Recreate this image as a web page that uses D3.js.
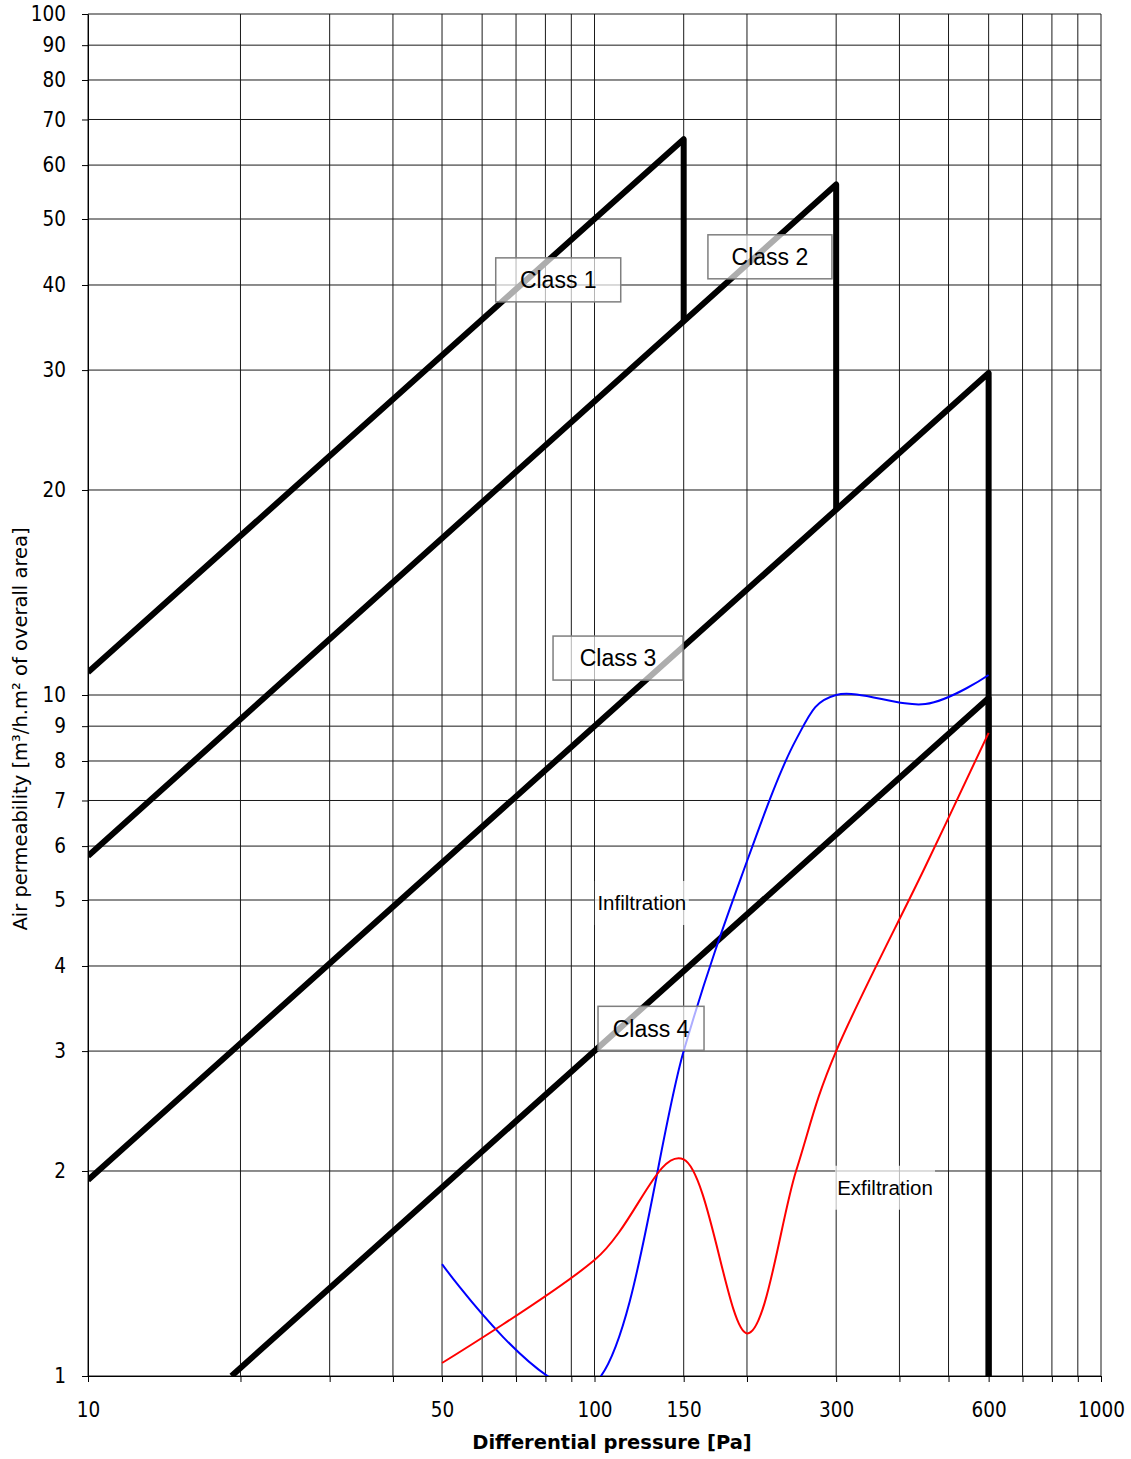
<!DOCTYPE html>
<html>
<head>
<meta charset="utf-8">
<script src="https://cdn.jsdelivr.net/npm/d3@7"></script>
<style>
  body { margin: 0; background: #fff; }
  svg { display: block; }
  .tick text { font-family: "DejaVu Sans Condensed", "DejaVu Sans", sans-serif; font-stretch: condensed; }
</style>
</head>
<body>
<div id="chart"></div>
<script>
// air permeability classes (EN 12207 style) + measured curves
const xGrid = [10, 20, 30, 40, 50, 60, 70, 80, 90, 100, 150, 200, 300, 400, 500, 600, 700, 800, 900, 1000];
const xLabels = [10, 50, 100, 150, 300, 600, 1000];
const yGrid = [1, 2, 3, 4, 5, 6, 7, 8, 9, 10, 20, 30, 40, 50, 60, 70, 80, 90, 100];

// class limit lines [pressure, permeability]
const class1 = [[10, 10.8], [150, 65.5], [150, 35.4]];
const class2 = [[10, 5.8], [300, 56.2], [300, 18.7]];
const class3 = [[10, 1.94], [600, 29.7], [600, 1]];
const class4 = [[19.2, 1], [600, 9.9], [600, 1]];
const classNames = ["Class 1", "Class 2", "Class 3", "Class 4"];

// measured curves
const pressure = [50, 100, 150, 200, 250, 300, 450, 600];
const infiltration = [1.46, 0.975, 3.0, 5.7, 8.6, 10.0, 9.7, 10.7];
const exfiltration = [1.045, 1.48, 2.08, 1.155, 2.0, 3.0, 5.6, 8.8];

// where the labels sit (data coords)
const classLabelP = [84.8, 222, 111.3, 129.3];
const classLabelQ = [40.7, 44.0, 11.33, 3.24];
const classBoxW = [125, 124, 130, 106];

const width = 1131, height = 1459;
const x = d3.scaleLog().domain([10, 1000]).range([88, 1101]);
const y = d3.scaleLog().domain([1, 100]).range([1376, 14]);

const svg = d3.select("#chart").append("svg")
  .attr("width", width)
  .attr("height", height);

svg.append("defs").append("clipPath").attr("id", "plot")
  .append("rect")
  .attr("x", x(10)).attr("y", y(100))
  .attr("width", x(1000) - x(10)).attr("height", y(1) - y(100));

// grid
svg.append("g").selectAll("line").data(xGrid).join("line")
  .attr("x1", d => x(d)).attr("x2", d => x(d))
  .attr("y1", y(100)).attr("y2", y(1))
  .attr("stroke", "#1a1a1a").attr("stroke-width", 1);
svg.append("g").selectAll("line").data(yGrid).join("line")
  .attr("y1", d => y(d)).attr("y2", d => y(d))
  .attr("x1", x(10)).attr("x2", x(1000))
  .attr("stroke", "#1a1a1a").attr("stroke-width", 1);

// axes
const xAxis = svg.append("g")
  .attr("transform", `translate(0,${y(1)})`)
  .call(d3.axisBottom(x).tickValues(xGrid).tickSize(6).tickSizeOuter(0).tickPadding(20)
    .tickFormat(d => xLabels.includes(d) ? d : ""));
const yAxis = svg.append("g")
  .attr("transform", `translate(${x(10)},0)`)
  .call(d3.axisLeft(y).tickValues(yGrid).tickSize(6).tickSizeOuter(0).tickPadding(16)
    .tickFormat(d => d));
[xAxis, yAxis].forEach(a => {
  a.select(".domain").attr("stroke", "#000");
  a.selectAll(".tick line").attr("stroke", "#000");
  a.selectAll(".tick text").attr("font-size", 20.5).attr("fill", "#000");
});

const plot = svg.append("g").attr("clip-path", "url(#plot)");

// class lines
const lineXY = d3.line().x(d => x(d[0])).y(d => y(d[1]));
plot.selectAll("path.cls").data([class1, class2, class3, class4]).join("path")
  .attr("class", "cls")
  .attr("d", lineXY)
  .attr("fill", "none")
  .attr("stroke", "#000")
  .attr("stroke-width", 6)
  .attr("stroke-linejoin", "round");

// measured curves
const smooth = d3.line().curve(d3.curveCardinal.tension(0))
  .x((d, i) => x(pressure[i])).y(d => y(d));
plot.append("path").attr("d", smooth(infiltration))
  .attr("fill", "none").attr("stroke", "#0000ff").attr("stroke-width", 2);
plot.append("path").attr("d", smooth(exfiltration))
  .attr("fill", "none").attr("stroke", "#ff0000").attr("stroke-width", 2);

// class labels
const lab = svg.append("g").selectAll("g").data(classNames).join("g")
  .attr("transform", (d, i) => `translate(${x(classLabelP[i])},${y(classLabelQ[i])})`);
lab.append("rect")
  .attr("x", (d, i) => -classBoxW[i] / 2).attr("y", -22)
  .attr("width", (d, i) => classBoxW[i]).attr("height", 44)
  .attr("fill", "#fff").attr("fill-opacity", 0.68)
  .attr("stroke", "#7f7f7f").attr("stroke-width", 1.5);
lab.append("text")
  .text(d => d)
  .attr("text-anchor", "middle").attr("dy", "0.36em")
  .attr("font-family", "Liberation Sans, Arial, sans-serif")
  .attr("font-size", 23);

// curve labels
const curveLabels = [["Infiltration", 124, 4.95, 94], ["Exfiltration", 374.6, 1.89, 100]];
const cl = svg.append("g").selectAll("g").data(curveLabels).join("g")
  .attr("transform", d => `translate(${x(d[1])},${y(d[2])})`);
cl.append("rect")
  .attr("x", d => -d[3] / 2).attr("y", -22).attr("width", d => d[3]).attr("height", 44)
  .attr("fill", "#fff").attr("fill-opacity", 0.7);
cl.append("text").text(d => d[0])
  .attr("text-anchor", "middle").attr("dy", "0.36em")
  .attr("font-family", "Liberation Sans, Arial, sans-serif")
  .attr("font-size", 20.5);

// axis titles
svg.append("text")
  .attr("x", 612).attr("y", 1449)
  .attr("text-anchor", "middle")
  .attr("font-family", "DejaVu Sans, sans-serif")
  .attr("font-weight", "bold")
  .attr("font-size", 19.5)
  .text("Differential pressure [Pa]");
svg.append("text")
  .attr("transform", "translate(27,729) rotate(-90)")
  .attr("text-anchor", "middle")
  .attr("font-family", "DejaVu Sans, sans-serif")
  .attr("font-size", 19.5)
  .text("Air permeability  [m³/h.m² of overall area]");
</script>
</body>
</html>
